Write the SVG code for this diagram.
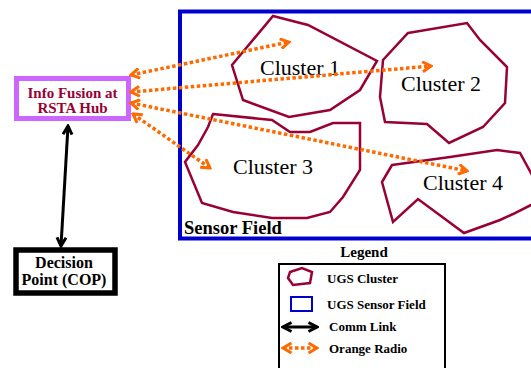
<svg xmlns="http://www.w3.org/2000/svg" width="531" height="368" viewBox="0 0 531 368">
  <style>
    .cluster { fill: none; stroke: #990033; stroke-width: 2.5; stroke-linejoin: miter; }
    .clabel { font-family: "Liberation Serif", "Times New Roman", serif; font-size: 22px; fill: #000; }
    .bold { font-family: "Liberation Serif", "Times New Roman", serif; font-weight: bold; }
    .radio { fill: none; stroke: #FF6A00; stroke-width: 3.5; stroke-dasharray: 3.5 2.5; marker-start: url(#chevO); marker-end: url(#chevO); }
    .comm { fill: none; stroke: #000; stroke-width: 3; marker-start: url(#chevK); marker-end: url(#chevK); }
  </style>
  <defs>
    <marker id="chevO" viewBox="0 0 12 12" refX="10" refY="6" markerWidth="12" markerHeight="12" markerUnits="userSpaceOnUse" orient="auto-start-reverse">
      <path d="M1.5,1 L10,6 L1.5,11" fill="none" stroke="#FF6A00" stroke-width="3"/>
    </marker>
    <marker id="chevK" viewBox="0 0 12 12" refX="10" refY="6" markerWidth="12" markerHeight="12" markerUnits="userSpaceOnUse" orient="auto-start-reverse">
      <path d="M1.5,1.5 L10,6 L1.5,10.5" fill="none" stroke="#000" stroke-width="3"/>
    </marker>
  </defs>

  <rect width="531" height="368" fill="#fff"/>

  <!-- sensor field -->
  <g id="sensor-field">
    <rect x="180" y="11.5" width="400" height="227" fill="none" stroke="#0000CC" stroke-width="4"/>
    <text class="bold" x="184" y="234" font-size="18.5">Sensor Field</text>
  </g>

  <!-- UGS clusters -->
  <g id="cluster1">
    <polygon class="cluster" points="273,16 308,25 377,61 360,90 330,110 289,117 243,100 232,65"/>
    <text class="clabel" x="260" y="75">Cluster 1</text>
  </g>
  <g id="cluster2">
    <polygon class="cluster" points="408,33 467,23 480,40 507,67 505,103 483,127 449,143 427,124 385,122 380,97 383,60"/>
    <text class="clabel" x="401" y="91">Cluster 2</text>
  </g>
  <g id="cluster3">
    <polygon class="cluster" points="213,114 272,120 290,132 310,132 333,123 360,123 360,170 343,197 330,212 307,218 272,218 233,212 202,203 185,162 198,145 208,127"/>
    <text class="clabel" x="233" y="174">Cluster 3</text>
  </g>
  <g id="cluster4">
    <polygon class="cluster" points="392,165 450,157 497,150 520,153 532,175 545,200 531,205 513,214 500,220 464,233 418,199 393,222 382,182"/>
    <text class="clabel" x="423" y="190">Cluster 4</text>
  </g>

  <!-- fusion hub -->
  <g id="hub">
    <rect x="16.5" y="78.5" width="112" height="40" fill="#fff" stroke="#CC66FF" stroke-width="5"/>
    <text class="bold" x="72.5" y="98" font-size="15" fill="#990033" text-anchor="middle">Info Fusion at</text>
    <text class="bold" x="72.5" y="113" font-size="15" fill="#990033" text-anchor="middle">RSTA Hub</text>
  </g>

  <!-- decision point -->
  <g id="decision">
    <rect x="16" y="250" width="99" height="43" fill="#fff" stroke="#000" stroke-width="5.5"/>
    <text class="bold" x="64" y="268" font-size="16" text-anchor="middle">Decision</text>
    <text class="bold" x="64" y="285" font-size="16" text-anchor="middle">Point (COP)</text>
  </g>

  <!-- links -->
  <g id="connectors">
    <line class="comm" x1="68" y1="126" x2="61" y2="246"/>
    <line class="radio" x1="131" y1="75" x2="289" y2="42"/>
    <line class="radio" x1="131" y1="92" x2="431" y2="66"/>
    <line class="radio" x1="131" y1="103" x2="467" y2="171"/>
    <line class="radio" x1="133" y1="114" x2="210" y2="168"/>
  </g>

  <!-- legend -->
  <g id="legend">
    <text class="bold" x="364" y="257" font-size="15" text-anchor="middle">Legend</text>
    <rect x="279" y="264" width="166" height="120" fill="none" stroke="#000" stroke-width="2"/>
    <polygon class="cluster" points="290,272 302,268 312,272 310,283 293,285 288,278" stroke-width="2"/>
    <text class="bold" x="327" y="283" font-size="13">UGS Cluster</text>
    <rect x="291" y="297" width="21" height="14" fill="none" stroke="#0000CC" stroke-width="2"/>
    <text class="bold" x="327" y="309" font-size="13">UGS Sensor Field</text>
    <line class="comm" x1="283" y1="327" x2="317" y2="327"/>
    <text class="bold" x="329" y="331" font-size="13">Comm Link</text>
    <line class="radio" x1="283" y1="348" x2="317" y2="348"/>
    <text class="bold" x="329" y="353" font-size="13">Orange Radio</text>
  </g>
</svg>
